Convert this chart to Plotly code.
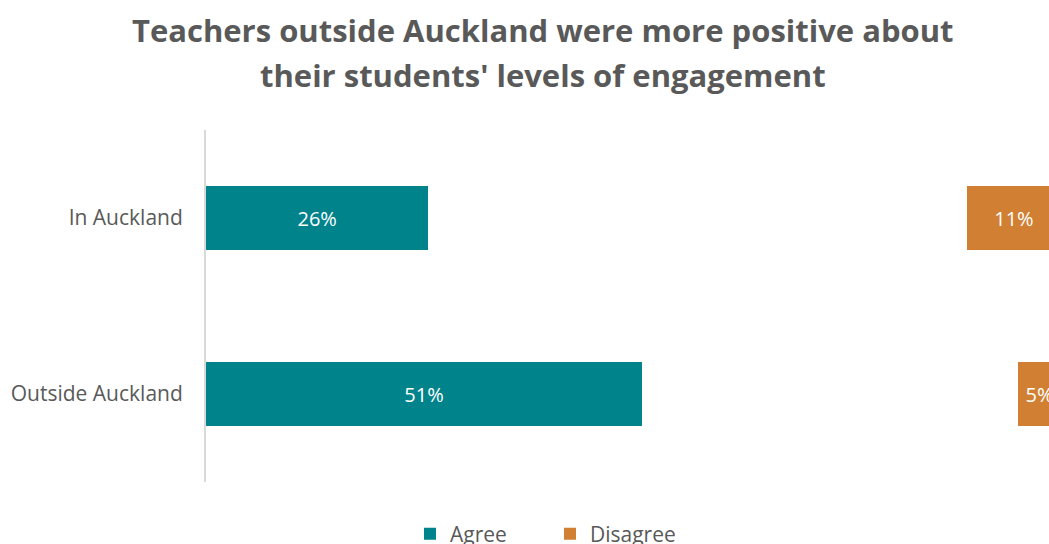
import plotly.graph_objects as go

# Survey responses by region (percent of teachers)
regions = ["In Auckland", "Outside Auckland"]
agree = [26, 51]
disagree = [11, 5]

# Neutral share fills the gap so Disagree sits at the right end of 100%
neutral = [100 - a - d for a, d in zip(agree, disagree)]

title_lines = [
    "Teachers outside Auckland were more positive about",
    "their students' levels of engagement",
]

teal = "#00838A"
orange = "#D17F32"
grey_text = "#595959"
font_family = "Open Sans"

fig = go.Figure()
fig.add_trace(go.Bar(
    y=regions, x=agree, orientation="h", name="Agree",
    marker=dict(color=teal, line=dict(width=0)),
    text=[f"{v}%" for v in agree], textposition="inside",
    insidetextanchor="middle", textangle=0, constraintext="none",
    textfont=dict(color="white", size=20, family=font_family),
))
fig.add_trace(go.Bar(
    y=regions, x=neutral, orientation="h", name="Neutral",
    marker=dict(color="rgba(0,0,0,0)", line=dict(width=0)),
    showlegend=False, hoverinfo="skip",
))
fig.add_trace(go.Bar(
    y=regions, x=disagree, orientation="h", name="Disagree",
    marker=dict(color=orange, line=dict(width=0)),
    text=[f"{v}%" for v in disagree], textposition="inside",
    insidetextanchor="middle", textangle=0, constraintext="none",
    textfont=dict(color="white", size=20, family=font_family),
))

# Two-line heading, each line placed on its own
for i, line in enumerate(title_lines):
    fig.add_annotation(
        text=f"<b>{line}</b>", showarrow=False,
        xref="paper", yref="paper",
        x=(543 - 206) / 843, xanchor="center",
        y=1 + (130 - (30 + 45 * i)) / 352, yanchor="middle",
        font=dict(family=font_family, size=31, color=grey_text),
    )

fig.update_layout(
    width=1049, height=544,
    barmode="stack", bargap=0.64,
    paper_bgcolor="white", plot_bgcolor="white",
    margin=dict(l=206, r=0, t=130, b=62),
    font=dict(family=font_family, color=grey_text, size=20),
    xaxis=dict(range=[0, 98.6], visible=False, showgrid=False, zeroline=False),
    yaxis=dict(
        autorange="reversed", showgrid=False, zeroline=False,
        showline=True, linecolor="#D9D9D9", linewidth=2,
        ticks="", ticklabelstandoff=17,
        tickfont=dict(size=21, color=grey_text, family=font_family),
    ),
    legend=dict(
        orientation="h", traceorder="normal",
        x=410 / 1049, xref="container", xanchor="left",
        y=10 / 544, yref="container", yanchor="middle",
        font=dict(size=21, color=grey_text, family=font_family),
        entrywidth=95, entrywidthmode="pixels",
    ),
    showlegend=True,
)

fig.write_html("out.html")
